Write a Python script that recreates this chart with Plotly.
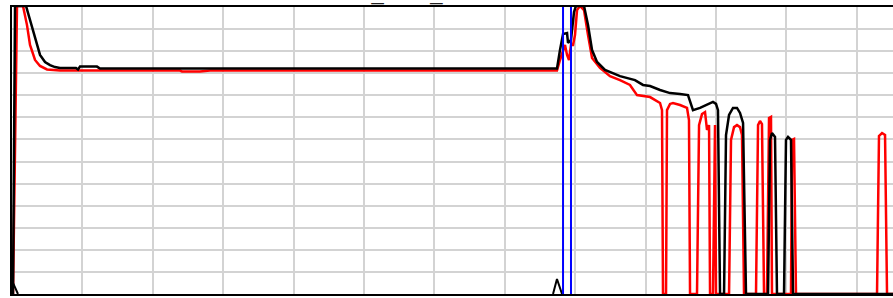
import plotly.graph_objects as go

# ---- data (x: time units, y: level units) ----
black_x = [0.14, 0.43, 1.99, 2.56, 3.27, 3.98, 4.69, 5.40, 6.11, 6.82, 9.09, 9.38, 9.66, 12.07, 12.50,
           40.91, 69.32, 77.41, 77.84, 78.27, 78.84, 78.98, 79.40, 79.83, 80.11, 81.25, 81.82, 82.39,
           83.10, 84.23, 86.36, 88.49, 89.63, 90.63, 92.05, 93.47, 94.89, 96.02, 96.73, 97.73, 99.57,
           100.00, 100.28, 100.57, 101.14, 101.42, 101.85, 102.41, 102.98, 103.41, 103.84, 104.26,
           107.39, 107.67, 107.95, 108.38, 108.66, 109.66, 109.94, 110.23, 110.65, 110.94, 125.14]
black_y = [0, 130.5, 130.5, 124.1, 115.1, 108.3, 105.1, 103.7, 102.8, 102.4, 102.4, 101.7, 103.0, 103.0, 102.1,
           102.1, 102.1, 102.1, 110.5, 117.8, 118.2, 113.7, 115.1, 127.7, 130.5, 130.5, 121.8, 110.5,
           105.1, 101.5, 98.7, 96.9, 94.7, 94.2, 92.4, 91.0, 90.6, 90.1, 83.3, 84.3, 87.0,
           86.1, 83.3, 0, 0, 72.0, 81.1, 84.3, 84.3, 82.0, 77.5, 0,
           0, 69.8, 72.9, 71.1, 0, 0, 69.8, 71.1, 69.8, 0, 0]

red_x = [0.14, 0.71, 1.56, 2.13, 2.56, 3.27, 3.98, 4.97, 6.82, 23.86, 24.15, 26.70, 28.13, 40.91, 77.41,
         77.84, 78.55, 78.84, 79.12, 79.40, 79.69, 79.97, 80.26, 80.68, 81.25, 81.82, 82.39, 83.52,
         84.94, 86.36, 87.78, 88.78, 90.63, 92.05, 92.33, 92.47, 92.90, 93.04, 93.47, 93.89, 94.89,
         95.88, 96.16, 96.31, 97.30, 97.59, 98.01, 98.44, 98.72, 99.01, 99.15, 99.57, 99.86, 100.00,
         101.85, 102.13, 102.56, 102.98, 103.41, 103.69, 103.98, 105.68, 105.97, 106.25, 106.53,
         106.82, 107.24, 107.53, 107.81, 107.95, 110.65, 110.80, 111.08, 111.36, 122.87, 123.15,
         123.58, 124.01, 124.29, 125.14]
red_y = [0, 130.5, 130.5, 121.8, 112.8, 106.0, 103.3, 101.7, 101.2, 101.2, 100.8, 100.8, 101.2, 101.2, 101.2,
         106.0, 112.8, 108.3, 106.0, 112.8, 112.8, 117.3, 128.6, 130.5, 128.6, 117.3, 106.9, 102.4,
         98.7, 96.9, 94.7, 90.1, 89.2, 86.5, 83.3, 0, 0, 83.3, 86.1, 86.5, 85.6,
         84.3, 78.8, 0, 0, 76.5, 81.5, 82.4, 74.3, 76.5, 0, 0, 76.5, 0,
         0, 69.8, 75.6, 76.5, 75.6, 72.0, 0, 0, 76.5, 78.4, 77.0,
         0, 0, 79.7, 80.2, 0, 0, 69.8, 70.2, 0, 0, 71.6,
         72.9, 72.0, 0, 0]

tri_x = [-0.5, 0.14, 0.85, None, 76.85, 77.41, 78.13]
tri_y = [0, 5.0, 0, None, 0, 6.8, 0]

blue_x = [78.27, 79.40]

title_text = "UE_SNR_Trace"

fig = go.Figure()
fig.add_trace(go.Scatter(x=red_x, y=red_y, mode="lines",
                         line=dict(color="#ff0000", width=2.5), showlegend=False))
fig.add_trace(go.Scatter(x=black_x, y=black_y, mode="lines",
                         line=dict(color="#000000", width=2.5), showlegend=False))
fig.add_trace(go.Scatter(x=tri_x, y=tri_y, mode="lines",
                         line=dict(color="#000000", width=2), showlegend=False))

for bx in blue_x:
    fig.add_shape(type="line", xref="x", yref="paper", x0=bx, x1=bx, y0=0, y1=1,
                  line=dict(color="#0000ff", width=2))

fig.add_annotation(text=title_text, xref="paper", yref="paper", x=0.3716, y=0.999,
                   xanchor="left", yanchor="bottom", showarrow=False,
                   font=dict(family="Liberation Sans", size=22, color="#222222"))

fig.update_layout(
    width=893, height=298,
    margin=dict(l=12, r=0, t=7, b=4),
    paper_bgcolor="white", plot_bgcolor="white",
    xaxis=dict(range=[0, 125.14], dtick=10, tick0=0, showgrid=True, gridcolor="#d3d3d3",
               gridwidth=2, zeroline=False, showticklabels=False, ticks="",
               showline=True, linecolor="black", linewidth=2, mirror=True),
    yaxis=dict(range=[0, 130], dtick=10, tick0=0, showgrid=True, gridcolor="#d3d3d3",
               gridwidth=2, zeroline=False, showticklabels=False, ticks="",
               showline=True, linecolor="black", linewidth=2, mirror=False),
)

fig.write_html("out.html", config={"displayModeBar": False},
               post_script="document.body.style.margin='0px';document.body.style.overflow='hidden';")
